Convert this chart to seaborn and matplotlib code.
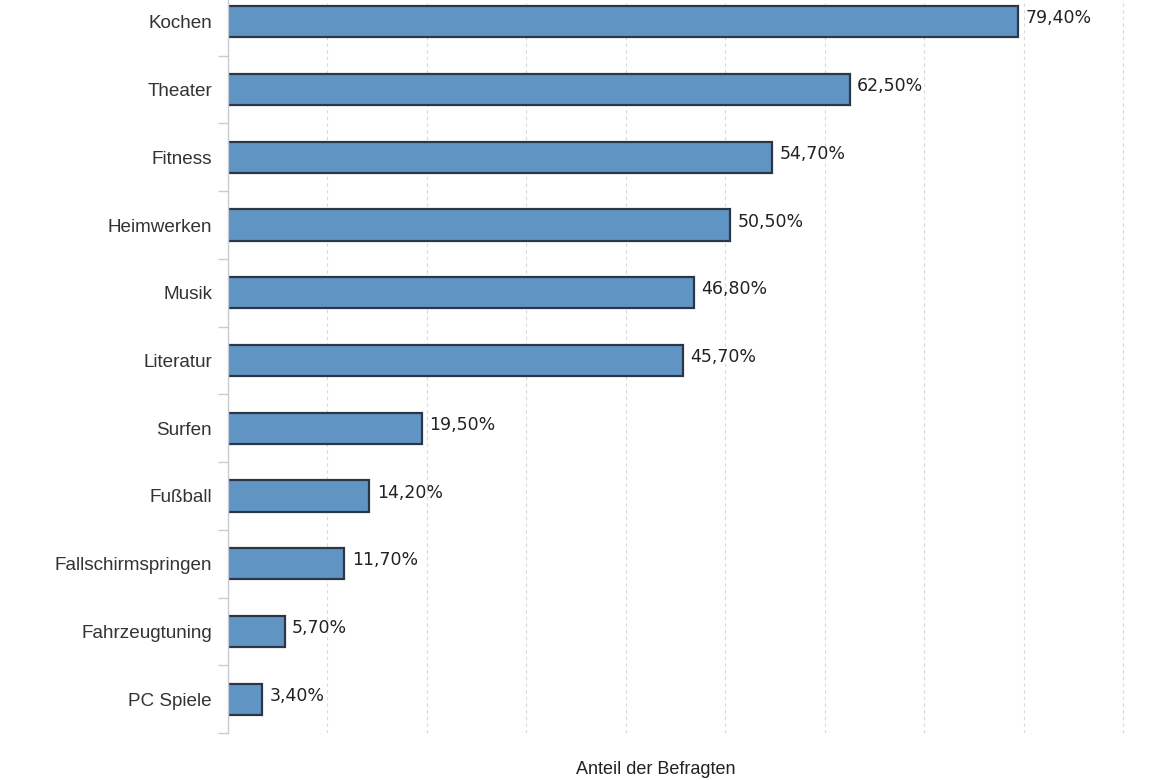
import matplotlib
matplotlib.use("Agg")
import matplotlib.pyplot as plt
import matplotlib.transforms as mtransforms
import seaborn as sns
import pandas as pd
from matplotlib.ticker import MultipleLocator, FixedLocator

# Freizeitaktivitaeten - Anteil der Befragten in %
categories = ["Kochen", "Theater", "Fitness", "Heimwerken", "Musik", "Literatur",
              "Surfen", "Fußball", "Fallschirmspringen", "Fahrzeugtuning", "PC Spiele"]
values = [79.4, 62.5, 54.7, 50.5, 46.8, 45.7, 19.5, 14.2, 11.7, 5.7, 3.4]
value_labels = ["79,40%", "62,50%", "54,70%", "50,50%", "46,80%", "45,70%",
                "19,50%", "14,20%", "11,70%", "5,70%", "3,40%"]

df = pd.DataFrame({"kategorie": categories, "anteil": values})

sns.set_style("white")
plt.rcParams["font.family"] = ["Liberation Sans", "DejaVu Sans"]

fig = plt.figure(figsize=(11.7, 7.8), dpi=100)
ax = fig.add_axes([228 / 1170, 47 / 780, (1170 - 228) / 1170, 745 / 780])

sns.barplot(data=df, x="anteil", y="kategorie", orient="h", color="#6095c3",
            width=0.46, edgecolor="#2b3746", linewidth=1.6, saturation=1, ax=ax)

for i, lab in enumerate(value_labels):
    ax.text(values[i] + 0.75, i - 0.05, lab, va="center", ha="left",
            fontsize=12.5, family="DejaVu Sans", color="#222222")

ax.set_xlim(0, 94.7)
ax.set_ylim(len(categories) - 0.5, -0.5)
ax.xaxis.set_major_locator(MultipleLocator(10))
ax.grid(axis="x", color="#d9d9d9", linestyle=(0, (3, 3)), linewidth=0.8)
ax.set_axisbelow(True)
ax.tick_params(axis="x", length=0, labelbottom=False)

ax.set_yticks(range(len(categories)))
ax.set_yticklabels(categories, fontsize=13.6, color="#333333")
# labels sit a little above the bar centre
shift = mtransforms.ScaledTranslation(0, 4 / 100, fig.dpi_scale_trans)
for t in ax.get_yticklabels():
    t.set_transform(t.get_transform() + shift)
ax.yaxis.set_minor_locator(FixedLocator([k + 0.5 for k in range(len(categories))]))
ax.tick_params(axis="y", which="major", left=False, length=0, pad=11.5)
ax.tick_params(axis="y", which="minor", left=True, length=7, color="#c8ccd2", width=1)

for s in ["top", "right", "bottom"]:
    ax.spines[s].set_visible(False)
ax.spines["left"].set_color("#c8ccd2")
ax.spines["left"].set_linewidth(1)

ax.set_ylabel("")
ax.set_xlabel("")
fig.text(576 / 1170, 2 / 780, "Anteil der Befragten", ha="left", va="bottom",
         fontsize=13, color="#222222")

fig.savefig("out.png", dpi=100)
